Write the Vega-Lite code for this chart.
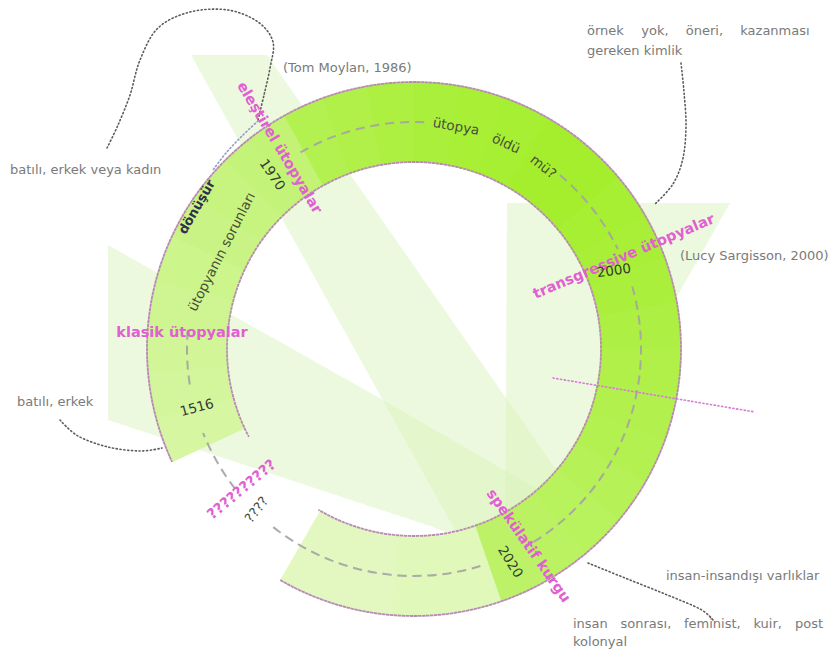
{
  "$schema": "https://vega.github.io/schema/vega-lite/v6.json",
  "width": 834,
  "height": 662,
  "padding": 0,
  "autosize": "none",
  "background": "#ffffff",
  "config": {"view": {"stroke": null}},
  "datasets": {
    "bands": [
      {"band": "A", "i": 0, "x": 191, "y": 55}, {"band": "A", "i": 1, "x": 267, "y": 55}, {"band": "A", "i": 2, "x": 598, "y": 530}, {"band": "A", "i": 3, "x": 455, "y": 530},
      {"band": "B", "i": 0, "x": 507, "y": 203}, {"band": "B", "i": 1, "x": 730, "y": 203}, {"band": "B", "i": 2, "x": 505, "y": 600},
      {"band": "C", "i": 0, "x": 108, "y": 245}, {"band": "C", "i": 1, "x": 383, "y": 400}, {"band": "C", "i": 2, "x": 540, "y": 491}, {"band": "C", "i": 3, "x": 540, "y": 570}, {"band": "C", "i": 4, "x": 433, "y": 527}, {"band": "C", "i": 5, "x": 108, "y": 420}
    ],
    "ring": [
      {"from": 245, "to": 255, "v": 0.37}, {"from": 255, "to": 265, "v": 0.40}, {"from": 265, "to": 275, "v": 0.43}, {"from": 275, "to": 285, "v": 0.46},
      {"from": 285, "to": 295, "v": 0.49}, {"from": 295, "to": 305, "v": 0.52}, {"from": 305, "to": 315, "v": 0.55}, {"from": 315, "to": 322, "v": 0.58},
      {"from": 322, "to": 331, "v": 0.61}, {"from": 331, "to": 340, "v": 0.79}, {"from": 340, "to": 350, "v": 0.83}, {"from": 350, "to": 360, "v": 0.87},
      {"from": 0, "to": 10, "v": 0.90}, {"from": 10, "to": 20, "v": 0.93}, {"from": 20, "to": 30, "v": 0.95}, {"from": 30, "to": 40, "v": 0.97},
      {"from": 40, "to": 50, "v": 0.97}, {"from": 50, "to": 60, "v": 0.95}, {"from": 60, "to": 70, "v": 0.92}, {"from": 70, "to": 80, "v": 0.89},
      {"from": 80, "to": 90, "v": 0.86}, {"from": 90, "to": 100, "v": 0.83}, {"from": 100, "to": 110, "v": 0.81}, {"from": 110, "to": 120, "v": 0.79},
      {"from": 120, "to": 130, "v": 0.76}, {"from": 130, "to": 140, "v": 0.73}, {"from": 140, "to": 150, "v": 0.70}, {"from": 150, "to": 161, "v": 0.67},
      {"from": 161, "to": 185, "v": 0.25}, {"from": 185, "to": 210, "v": 0.21}
    ],
    "mid": [
      {"from": 330, "to": 363.32}, {"from": 40, "to": 63.85}, {"from": 74, "to": 150.86},
      {"from": 163, "to": 219.03}, {"from": 232, "to": 248.28}, {"from": 261, "to": 275.39}
    ],
    "edges": [
      {"from": 245, "to": 570.105, "r": 267},
      {"from": 242, "to": 570.762, "r": 187}
    ],
    "links": [
      {"k": "loop", "tone": "gray", "i": 0, "x": 107, "y": 148}, {"k": "loop", "tone": "gray", "i": 1, "x": 118, "y": 125}, {"k": "loop", "tone": "gray", "i": 2, "x": 130, "y": 95}, {"k": "loop", "tone": "gray", "i": 3, "x": 140, "y": 60}, {"k": "loop", "tone": "gray", "i": 4, "x": 158, "y": 28}, {"k": "loop", "tone": "gray", "i": 5, "x": 190, "y": 12}, {"k": "loop", "tone": "gray", "i": 6, "x": 228, "y": 10}, {"k": "loop", "tone": "gray", "i": 7, "x": 258, "y": 22}, {"k": "loop", "tone": "gray", "i": 8, "x": 273, "y": 42}, {"k": "loop", "tone": "gray", "i": 9, "x": 270, "y": 68}, {"k": "loop", "tone": "gray", "i": 10, "x": 264, "y": 95}, {"k": "loop", "tone": "gray", "i": 11, "x": 258, "y": 120},
      {"k": "bl", "tone": "gray", "i": 0, "x": 60, "y": 420}, {"k": "bl", "tone": "gray", "i": 1, "x": 78, "y": 436}, {"k": "bl", "tone": "gray", "i": 2, "x": 108, "y": 447}, {"k": "bl", "tone": "gray", "i": 3, "x": 140, "y": 451}, {"k": "bl", "tone": "gray", "i": 4, "x": 162, "y": 448},
      {"k": "tr", "tone": "gray", "i": 0, "x": 681, "y": 63}, {"k": "tr", "tone": "gray", "i": 1, "x": 684, "y": 92}, {"k": "tr", "tone": "gray", "i": 2, "x": 686, "y": 125}, {"k": "tr", "tone": "gray", "i": 3, "x": 683, "y": 158}, {"k": "tr", "tone": "gray", "i": 4, "x": 673, "y": 184}, {"k": "tr", "tone": "gray", "i": 5, "x": 655, "y": 204},
      {"k": "br", "tone": "gray", "i": 0, "x": 588, "y": 563}, {"k": "br", "tone": "gray", "i": 1, "x": 625, "y": 578}, {"k": "br", "tone": "gray", "i": 2, "x": 665, "y": 594}, {"k": "br", "tone": "gray", "i": 3, "x": 700, "y": 609}, {"k": "br", "tone": "gray", "i": 4, "x": 713, "y": 620},
      {"k": "turn", "tone": "blue", "i": 0, "x": 258, "y": 121}, {"k": "turn", "tone": "blue", "i": 1, "x": 242, "y": 136}, {"k": "turn", "tone": "blue", "i": 2, "x": 226, "y": 153}, {"k": "turn", "tone": "blue", "i": 3, "x": 213, "y": 170},
      {"k": "pk", "tone": "pink", "i": 0, "x": 553, "y": 378}, {"k": "pk", "tone": "pink", "i": 1, "x": 755, "y": 412}
    ],
    "notes": [
      {"label": "(Tom Moylan, 1986)", "x": 283, "y": 68},
      {"label": "örnek", "x": 587, "y": 31}, {"label": "yok,", "x": 641.3, "y": 31}, {"label": "öneri,", "x": 685.8, "y": 31}, {"label": "kazanması", "x": 740.3, "y": 31},
      {"label": "gereken kimlik", "x": 587, "y": 51},
      {"label": "(Lucy Sargisson, 2000)", "x": 680, "y": 256},
      {"label": "batılı, erkek veya kadın", "x": 10, "y": 170},
      {"label": "batılı, erkek", "x": 17, "y": 402},
      {"label": "insan-insandışı varlıklar", "x": 666, "y": 576},
      {"label": "insan", "x": 573, "y": 624}, {"label": "sonrası,", "x": 620.5, "y": 624}, {"label": "feminist,", "x": 684, "y": 624}, {"label": "kuir,", "x": 753.4, "y": 624}, {"label": "post", "x": 795, "y": 624},
      {"label": "kolonyal", "x": 573, "y": 642}
    ],
    "pinks": [
      {"label": "eleştirel ütopyalar", "x": 279, "y": 148, "rot": 59},
      {"label": "klasik ütopyalar", "x": 182, "y": 333, "rot": 0},
      {"label": "transgressive ütopyalar", "x": 624, "y": 257, "rot": -23},
      {"label": "spekülatif kurgu", "x": 528, "y": 546, "rot": 55},
      {"label": "??????????", "x": 242, "y": 490, "rot": -40}
    ],
    "years": [
      {"label": "1970", "x": 272, "y": 175, "rot": 56},
      {"label": "2000", "x": 614, "y": 271, "rot": -8},
      {"label": "1516", "x": 197, "y": 408, "rot": -15},
      {"label": "2020", "x": 510, "y": 562, "rot": 58}
    ],
    "words": [
      {"label": "ütopyanın sorunları", "x": 222, "y": 252, "rot": -63},
      {"label": "ütopya", "x": 456, "y": 127, "rot": 10},
      {"label": "öldü", "x": 506, "y": 144, "rot": 25},
      {"label": "mü?", "x": 543, "y": 167, "rot": 38},
      {"label": "????", "x": 257, "y": 510, "rot": -52}
    ],
    "turns": [
      {"label": "dönüşür", "x": 197, "y": 207, "rot": -60}
    ]
  },
  "layer": [
    {
      "data": {"name": "bands"},
      "mark": {"type": "line", "fill": "#d8f2b6", "fillOpacity": 0.45, "strokeOpacity": 0, "interpolate": "linear"},
      "encoding": {
        "x": {"field": "x", "type": "quantitative", "scale": {"domain": [0, 834], "nice": false, "zero": false}, "axis": null},
        "y": {"field": "y", "type": "quantitative", "scale": {"domain": [0, 662], "nice": false, "zero": false, "reverse": true}, "axis": null},
        "detail": {"field": "band", "type": "nominal"},
        "order": {"field": "i", "type": "quantitative"}
      }
    },
    {
      "data": {"name": "ring"},
      "mark": {"type": "arc", "strokeWidth": 1},
      "encoding": {
        "x": {"datum": 414, "type": "quantitative", "scale": {"domain": [0, 834], "nice": false, "zero": false}, "axis": null},
        "y": {"datum": 349, "type": "quantitative", "scale": {"domain": [0, 662], "nice": false, "zero": false, "reverse": true}, "axis": null},
        "theta": {"field": "from", "type": "quantitative", "stack": null, "scale": {"domain": [0, 360], "range": [0, 6.283185307179586], "nice": false, "zero": false}},
        "theta2": {"field": "to"},
        "radius": {"datum": 187, "type": "quantitative", "scale": {"type": "linear", "domain": [0, 300], "range": [0, 300], "nice": false, "zero": true}},
        "radius2": {"datum": 267},
        "fill": {"field": "v", "type": "quantitative", "scale": {"domain": [0, 1], "range": ["#f4fbea", "#a2ee28"], "interpolate": "rgb", "zero": false}, "legend": null},
        "stroke": {"field": "v", "type": "quantitative", "scale": {"domain": [0, 1], "range": ["#f4fbea", "#a2ee28"], "interpolate": "rgb", "zero": false}, "legend": null}
      }
    },
    {
      "data": {"name": "mid"},
      "mark": {"type": "arc", "filled": false, "stroke": "#a3a3a3", "strokeWidth": 2, "strokeDash": [9, 6], "strokeOpacity": 0.9},
      "encoding": {
        "x": {"datum": 414, "type": "quantitative", "scale": {"domain": [0, 834], "nice": false, "zero": false}, "axis": null},
        "y": {"datum": 349, "type": "quantitative", "scale": {"domain": [0, 662], "nice": false, "zero": false, "reverse": true}, "axis": null},
        "theta": {"field": "from", "type": "quantitative", "stack": null, "scale": {"domain": [0, 360], "range": [0, 6.283185307179586], "nice": false, "zero": false}},
        "theta2": {"field": "to"},
        "radius": {"datum": 227, "type": "quantitative", "scale": {"type": "linear", "domain": [0, 300], "range": [0, 300], "nice": false, "zero": true}},
        "radius2": {"datum": 227}
      }
    },
    {
      "data": {"name": "edges"},
      "mark": {"type": "arc", "filled": false, "stroke": "#b98ab5", "strokeWidth": 1.8, "strokeDash": [2, 2]},
      "encoding": {
        "x": {"datum": 414, "type": "quantitative", "scale": {"domain": [0, 834], "nice": false, "zero": false}, "axis": null},
        "y": {"datum": 349, "type": "quantitative", "scale": {"domain": [0, 662], "nice": false, "zero": false, "reverse": true}, "axis": null},
        "theta": {"field": "from", "type": "quantitative", "stack": null, "scale": {"domain": [0, 360], "range": [0, 6.283185307179586], "nice": false, "zero": false}},
        "theta2": {"field": "to"},
        "radius": {"field": "r", "type": "quantitative", "scale": {"type": "linear", "domain": [0, 300], "range": [0, 300], "nice": false, "zero": true}},
        "radius2": {"field": "r"}
      }
    },
    {
      "data": {"name": "links"},
      "mark": {"type": "line", "interpolate": "cardinal", "strokeWidth": 1.6, "strokeDash": [1.2, 2.6], "strokeCap": "round"},
      "encoding": {
        "x": {"field": "x", "type": "quantitative", "scale": {"domain": [0, 834], "nice": false, "zero": false}, "axis": null},
        "y": {"field": "y", "type": "quantitative", "scale": {"domain": [0, 662], "nice": false, "zero": false, "reverse": true}, "axis": null},
        "detail": {"field": "k", "type": "nominal"},
        "order": {"field": "i", "type": "quantitative"},
        "color": {"field": "tone", "type": "nominal", "scale": {"domain": ["gray", "blue", "pink"], "range": ["#5c5c5c", "#8e9cc4", "#d67ad6"]}, "legend": null}
      }
    },
    {
      "data": {"name": "notes"},
      "mark": {"type": "text", "align": "left", "baseline": "middle", "font": "DejaVu Sans", "fontSize": 13, "color": "#7a7a7a"},
      "encoding": {
        "x": {"field": "x", "type": "quantitative", "scale": {"domain": [0, 834], "nice": false, "zero": false}, "axis": null},
        "y": {"field": "y", "type": "quantitative", "scale": {"domain": [0, 662], "nice": false, "zero": false, "reverse": true}, "axis": null},
        "text": {"field": "label", "type": "nominal"}
      }
    },
    {
      "data": {"name": "pinks"},
      "mark": {"type": "text", "align": "center", "baseline": "middle", "font": "DejaVu Sans", "fontSize": 14.5, "fontWeight": "bold", "color": "#e060d2"},
      "encoding": {
        "x": {"field": "x", "type": "quantitative", "scale": {"domain": [0, 834], "nice": false, "zero": false}, "axis": null},
        "y": {"field": "y", "type": "quantitative", "scale": {"domain": [0, 662], "nice": false, "zero": false, "reverse": true}, "axis": null},
        "text": {"field": "label", "type": "nominal"},
        "angle": {"field": "rot", "type": "quantitative", "scale": null}
      }
    },
    {
      "data": {"name": "years"},
      "mark": {"type": "text", "align": "center", "baseline": "middle", "font": "DejaVu Sans", "fontSize": 13.5, "color": "#353a30"},
      "encoding": {
        "x": {"field": "x", "type": "quantitative", "scale": {"domain": [0, 834], "nice": false, "zero": false}, "axis": null},
        "y": {"field": "y", "type": "quantitative", "scale": {"domain": [0, 662], "nice": false, "zero": false, "reverse": true}, "axis": null},
        "text": {"field": "label", "type": "nominal"},
        "angle": {"field": "rot", "type": "quantitative", "scale": null}
      }
    },
    {
      "data": {"name": "words"},
      "mark": {"type": "text", "align": "center", "baseline": "middle", "font": "DejaVu Sans", "fontSize": 13.5, "color": "#474d3a"},
      "encoding": {
        "x": {"field": "x", "type": "quantitative", "scale": {"domain": [0, 834], "nice": false, "zero": false}, "axis": null},
        "y": {"field": "y", "type": "quantitative", "scale": {"domain": [0, 662], "nice": false, "zero": false, "reverse": true}, "axis": null},
        "text": {"field": "label", "type": "nominal"},
        "angle": {"field": "rot", "type": "quantitative", "scale": null}
      }
    },
    {
      "data": {"name": "turns"},
      "mark": {"type": "text", "align": "center", "baseline": "middle", "font": "DejaVu Sans", "fontSize": 13, "fontWeight": "bold", "color": "#2f3050"},
      "encoding": {
        "x": {"field": "x", "type": "quantitative", "scale": {"domain": [0, 834], "nice": false, "zero": false}, "axis": null},
        "y": {"field": "y", "type": "quantitative", "scale": {"domain": [0, 662], "nice": false, "zero": false, "reverse": true}, "axis": null},
        "text": {"field": "label", "type": "nominal"},
        "angle": {"field": "rot", "type": "quantitative", "scale": null}
      }
    }
  ]
}
